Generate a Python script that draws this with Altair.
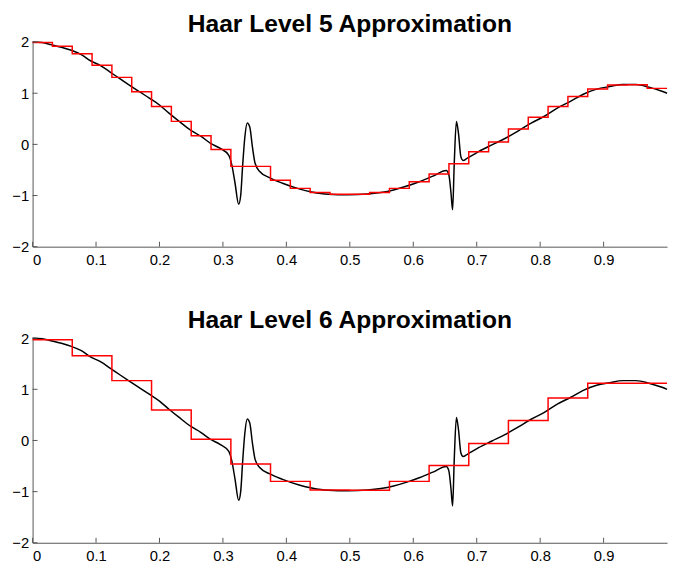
import altair as alt
import pandas as pd

# Signal (x in [0,1])
sig_x = [0.0, 0.015, 0.029, 0.0454, 0.061, 0.076, 0.092, 0.107, 0.1227, 0.138,
         0.1536, 0.169, 0.1846, 0.2, 0.215, 0.231, 0.2495, 0.265, 0.2805, 0.296,
         0.309, 0.314, 0.319, 0.3248, 0.328, 0.331, 0.3346, 0.3383, 0.3423, 0.3465,
         0.3507, 0.358, 0.3733, 0.394, 0.42, 0.44, 0.466, 0.497, 0.528, 0.549,
         0.569, 0.590, 0.6105, 0.631, 0.652, 0.656, 0.6594, 0.662, 0.6646, 0.668,
         0.6713, 0.675, 0.6786, 0.6852, 0.703, 0.7239, 0.7445, 0.765, 0.7858, 0.806,
         0.827, 0.8476, 0.868, 0.889, 0.9095, 0.930, 0.951, 0.9714, 0.992, 1.0]
sig_y = [2.0, 1.99, 1.95, 1.90, 1.84, 1.76, 1.63, 1.54, 1.41, 1.28,
         1.15, 1.025, 0.90, 0.77, 0.61, 0.45, 0.275, 0.16, 0.02, -0.08,
         -0.21, -0.40, -0.75, -1.17, -1.0, -0.43, 0.15, 0.42, 0.34, -0.05,
         -0.37, -0.53, -0.65, -0.76, -0.87, -0.93, -0.975, -0.985, -0.97, -0.94,
         -0.89, -0.815, -0.725, -0.62, -0.51, -0.59, -0.94, -1.28, -0.37, 0.45,
         0.21, -0.24, -0.315, -0.27, -0.14, -0.01, 0.115, 0.26, 0.415, 0.545,
         0.71, 0.84, 0.98, 1.08, 1.13, 1.17, 1.17, 1.12, 1.04, 1.0]

# Haar approximation coefficients (step heights)
level5 = [1.99, 1.92, 1.77, 1.545, 1.31, 1.03, 0.74, 0.45, 0.17, -0.10,
          -0.43, -0.43, -0.70, -0.86, -0.94, -0.975, -0.975, -0.94, -0.86, -0.73,
          -0.58, -0.38, -0.145, 0.045, 0.30, 0.53, 0.74, 0.935, 1.085, 1.16,
          1.165, 1.095]
level6 = [1.97, 1.655, 1.17, 0.595, 0.025, -0.46, -0.80, -0.97, -0.975, -0.80,
          -0.49, -0.06, 0.39, 0.83, 1.12, 1.12]

x_ticks = [0, 0.1, 0.2, 0.3, 0.4, 0.5, 0.6, 0.7, 0.8, 0.9]
y_ticks = [-2, -1, 0, 1, 2]

W, H = 645, 208
FONT = "Liberation Sans"

signal = pd.DataFrame({"x": sig_x, "y": sig_y})


def steps(vals):
    n = len(vals)
    return pd.DataFrame({"x": [i / n for i in range(n + 1)],
                         "y": list(vals) + [vals[-1]]})


xscale = alt.Scale(domain=[0, 1], nice=False, zero=False)
yscale = alt.Scale(domain=[-2, 2], nice=False, zero=False)


def panel(title, vals):
    xenc = alt.X("x:Q", scale=xscale, title=None,
                 axis=alt.Axis(values=x_ticks, format="~g", labelPadding=6))
    yenc = alt.Y("y:Q", scale=yscale, title=None,
                 axis=alt.Axis(values=y_ticks, format="~g", labelPadding=4))
    curve = alt.Chart(signal).mark_line(color="black", strokeWidth=1.5,
                                        interpolate="monotone").encode(x=xenc, y=yenc)
    approx = alt.Chart(steps(vals)).mark_line(color="#ff0000", strokeWidth=1.5,
                                              interpolate="step-after").encode(x="x:Q", y="y:Q")
    xt = alt.Chart(pd.DataFrame({"x": x_ticks})).mark_rule(
        color="#555", strokeWidth=1).encode(x="x:Q", y=alt.value(H), y2=alt.value(H - 5))
    yt = alt.Chart(pd.DataFrame({"y": y_ticks})).mark_rule(
        color="#555", strokeWidth=1).encode(y="y:Q", x=alt.value(0), x2=alt.value(5))
    return alt.layer(curve, approx, xt, yt).properties(
        width=W, height=H,
        title=alt.TitleParams(title, fontSize=25, fontWeight="bold", font=FONT,
                              anchor="middle", color="black", offset=-2))


chart = alt.vconcat(
    panel("Haar Level 5 Approximation", level5),
    panel("Haar Level 6 Approximation", level6),
    spacing=42,
).properties(
    padding={"left": 3, "top": 0, "right": 0, "bottom": 0}
).configure_view(stroke=None).configure_axis(
    grid=False, ticks=False, tickSize=0, domainColor="#555", domainWidth=1,
    labelFont=FONT, labelFontSize=15, labelColor="black",
)

chart.save("out.html", embed_options={"renderer": "svg", "actions": False})
